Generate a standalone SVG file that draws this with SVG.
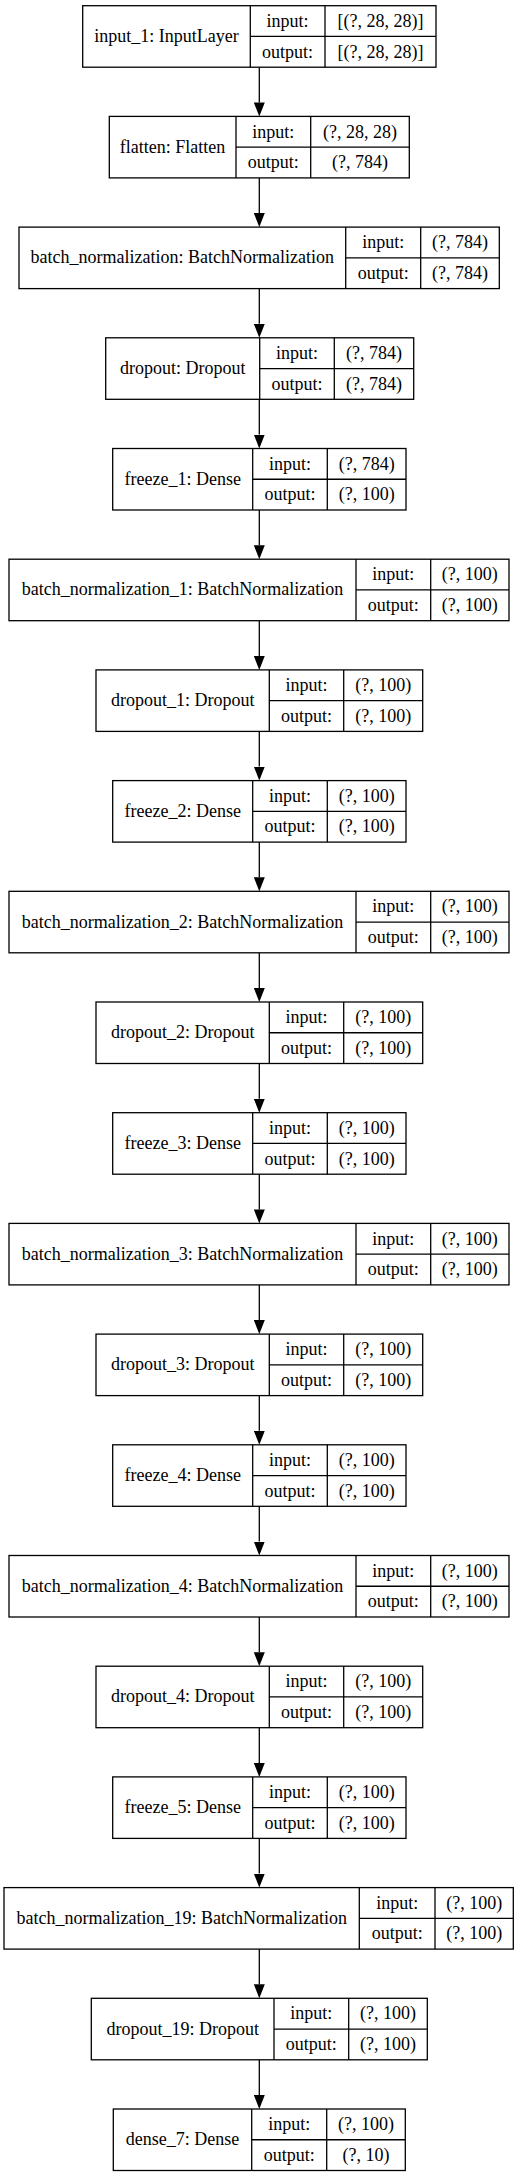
<svg xmlns="http://www.w3.org/2000/svg" width="519" height="2176" viewBox="0 0 519 2176">
<style>
rect{fill:#fff;stroke:#000;stroke-width:1.3}
.n line{stroke:#000;stroke-width:1.3}
text{font-family:"Liberation Serif","Times New Roman",serif;font-size:18px;fill:#000;text-anchor:middle}
.e line{stroke:#000;stroke-width:1.3}
</style>
<defs>
<marker id="arr" viewBox="0 0 14 11" refX="0" refY="5.5" markerWidth="14" markerHeight="11" orient="auto" markerUnits="userSpaceOnUse"><path d="M0,0 L14,5.5 L0,11 z" fill="#000"/></marker>
</defs>
<rect x="0" y="0" width="519" height="2176" style="stroke:none;fill:#fff"/>
<g class="e" id="connectors">
<line x1="259.3" y1="67.2" x2="259.3" y2="102.4" marker-end="url(#arr)"/>
<line x1="259.3" y1="177.9" x2="259.3" y2="213.1" marker-end="url(#arr)"/>
<line x1="259.3" y1="288.6" x2="259.3" y2="323.8" marker-end="url(#arr)"/>
<line x1="259.3" y1="399.3" x2="259.3" y2="434.5" marker-end="url(#arr)"/>
<line x1="259.3" y1="510" x2="259.3" y2="545.2" marker-end="url(#arr)"/>
<line x1="259.3" y1="620.7" x2="259.3" y2="655.9" marker-end="url(#arr)"/>
<line x1="259.3" y1="731.4" x2="259.3" y2="766.6" marker-end="url(#arr)"/>
<line x1="259.3" y1="842.1" x2="259.3" y2="877.3" marker-end="url(#arr)"/>
<line x1="259.3" y1="952.8" x2="259.3" y2="988" marker-end="url(#arr)"/>
<line x1="259.3" y1="1063.5" x2="259.3" y2="1098.7" marker-end="url(#arr)"/>
<line x1="259.3" y1="1174.2" x2="259.3" y2="1209.4" marker-end="url(#arr)"/>
<line x1="259.3" y1="1284.9" x2="259.3" y2="1320.1" marker-end="url(#arr)"/>
<line x1="259.3" y1="1395.6" x2="259.3" y2="1430.8" marker-end="url(#arr)"/>
<line x1="259.3" y1="1506.3" x2="259.3" y2="1541.5" marker-end="url(#arr)"/>
<line x1="259.3" y1="1617" x2="259.3" y2="1652.2" marker-end="url(#arr)"/>
<line x1="259.3" y1="1727.7" x2="259.3" y2="1762.9" marker-end="url(#arr)"/>
<line x1="259.3" y1="1838.4" x2="259.3" y2="1873.6" marker-end="url(#arr)"/>
<line x1="259.3" y1="1949.1" x2="259.3" y2="1984.3" marker-end="url(#arr)"/>
<line x1="259.3" y1="2059.8" x2="259.3" y2="2095" marker-end="url(#arr)"/>
</g>

<g class="n" id="input_1" transform="translate(0,5.7)">
<rect x="82.7" y="0" width="353.3" height="61.5"/>
<line x1="250.3" y1="0" x2="250.3" y2="61.5"/><line x1="325" y1="0" x2="325" y2="61.5"/><line x1="250.3" y1="30.75" x2="436" y2="30.75"/>
<text x="166.5" y="36.25">input_1: InputLayer</text>
<text x="287.6" y="21.2">input:</text><text x="287.6" y="51.9">output:</text>
<text x="380.5" y="21.2">[(?, 28, 28)]</text><text x="380.5" y="51.9">[(?, 28, 28)]</text>
</g>

<g class="n" id="flatten" transform="translate(0,116.4)">
<rect x="109.3" y="0" width="300" height="61.5"/>
<line x1="236" y1="0" x2="236" y2="61.5"/><line x1="310.7" y1="0" x2="310.7" y2="61.5"/><line x1="236" y1="30.75" x2="409.3" y2="30.75"/>
<text x="172.6" y="36.25">flatten: Flatten</text>
<text x="273.3" y="21.2">input:</text><text x="273.3" y="51.9">output:</text>
<text x="360" y="21.2">(?, 28, 28)</text><text x="360" y="51.9">(?, 784)</text>
</g>

<g class="n" id="batch_normalization" transform="translate(0,227.1)">
<rect x="19" y="0" width="480.3" height="61.5"/>
<line x1="345.7" y1="0" x2="345.7" y2="61.5"/><line x1="420.7" y1="0" x2="420.7" y2="61.5"/><line x1="345.7" y1="30.75" x2="499.3" y2="30.75"/>
<text x="182.3" y="36.25">batch_normalization: BatchNormalization</text>
<text x="383.2" y="21.2">input:</text><text x="383.2" y="51.9">output:</text>
<text x="460" y="21.2">(?, 784)</text><text x="460" y="51.9">(?, 784)</text>
</g>

<g class="n" id="dropout" transform="translate(0,337.8)">
<rect x="105.7" y="0" width="308" height="61.5"/>
<line x1="259.7" y1="0" x2="259.7" y2="61.5"/><line x1="334.3" y1="0" x2="334.3" y2="61.5"/><line x1="259.7" y1="30.75" x2="413.7" y2="30.75"/>
<text x="182.7" y="36.25">dropout: Dropout</text>
<text x="297" y="21.2">input:</text><text x="297" y="51.9">output:</text>
<text x="374" y="21.2">(?, 784)</text><text x="374" y="51.9">(?, 784)</text>
</g>

<g class="n" id="freeze_1" transform="translate(0,448.5)">
<rect x="112.7" y="0" width="293.3" height="61.5"/>
<line x1="252.7" y1="0" x2="252.7" y2="61.5"/><line x1="327.3" y1="0" x2="327.3" y2="61.5"/><line x1="252.7" y1="30.75" x2="406" y2="30.75"/>
<text x="182.7" y="36.25">freeze_1: Dense</text>
<text x="290" y="21.2">input:</text><text x="290" y="51.9">output:</text>
<text x="366.7" y="21.2">(?, 784)</text><text x="366.7" y="51.9">(?, 100)</text>
</g>

<g class="n" id="batch_normalization_1" transform="translate(0,559.2)">
<rect x="9" y="0" width="500" height="61.5"/>
<line x1="356" y1="0" x2="356" y2="61.5"/><line x1="430.7" y1="0" x2="430.7" y2="61.5"/><line x1="356" y1="30.75" x2="509" y2="30.75"/>
<text x="182.5" y="36.25">batch_normalization_1: BatchNormalization</text>
<text x="393.3" y="21.2">input:</text><text x="393.3" y="51.9">output:</text>
<text x="469.8" y="21.2">(?, 100)</text><text x="469.8" y="51.9">(?, 100)</text>
</g>

<g class="n" id="dropout_1" transform="translate(0,669.9)">
<rect x="96" y="0" width="326.7" height="61.5"/>
<line x1="269.3" y1="0" x2="269.3" y2="61.5"/><line x1="343.7" y1="0" x2="343.7" y2="61.5"/><line x1="269.3" y1="30.75" x2="422.7" y2="30.75"/>
<text x="182.7" y="36.25">dropout_1: Dropout</text>
<text x="306.5" y="21.2">input:</text><text x="306.5" y="51.9">output:</text>
<text x="383.2" y="21.2">(?, 100)</text><text x="383.2" y="51.9">(?, 100)</text>
</g>

<g class="n" id="freeze_2" transform="translate(0,780.6)">
<rect x="112.7" y="0" width="293.3" height="61.5"/>
<line x1="252.7" y1="0" x2="252.7" y2="61.5"/><line x1="327.3" y1="0" x2="327.3" y2="61.5"/><line x1="252.7" y1="30.75" x2="406" y2="30.75"/>
<text x="182.7" y="36.25">freeze_2: Dense</text>
<text x="290" y="21.2">input:</text><text x="290" y="51.9">output:</text>
<text x="366.7" y="21.2">(?, 100)</text><text x="366.7" y="51.9">(?, 100)</text>
</g>

<g class="n" id="batch_normalization_2" transform="translate(0,891.3)">
<rect x="9" y="0" width="500" height="61.5"/>
<line x1="356" y1="0" x2="356" y2="61.5"/><line x1="430.7" y1="0" x2="430.7" y2="61.5"/><line x1="356" y1="30.75" x2="509" y2="30.75"/>
<text x="182.5" y="36.25">batch_normalization_2: BatchNormalization</text>
<text x="393.3" y="21.2">input:</text><text x="393.3" y="51.9">output:</text>
<text x="469.8" y="21.2">(?, 100)</text><text x="469.8" y="51.9">(?, 100)</text>
</g>

<g class="n" id="dropout_2" transform="translate(0,1002)">
<rect x="96" y="0" width="326.7" height="61.5"/>
<line x1="269.3" y1="0" x2="269.3" y2="61.5"/><line x1="343.7" y1="0" x2="343.7" y2="61.5"/><line x1="269.3" y1="30.75" x2="422.7" y2="30.75"/>
<text x="182.7" y="36.25">dropout_2: Dropout</text>
<text x="306.5" y="21.2">input:</text><text x="306.5" y="51.9">output:</text>
<text x="383.2" y="21.2">(?, 100)</text><text x="383.2" y="51.9">(?, 100)</text>
</g>

<g class="n" id="freeze_3" transform="translate(0,1112.7)">
<rect x="112.7" y="0" width="293.3" height="61.5"/>
<line x1="252.7" y1="0" x2="252.7" y2="61.5"/><line x1="327.3" y1="0" x2="327.3" y2="61.5"/><line x1="252.7" y1="30.75" x2="406" y2="30.75"/>
<text x="182.7" y="36.25">freeze_3: Dense</text>
<text x="290" y="21.2">input:</text><text x="290" y="51.9">output:</text>
<text x="366.7" y="21.2">(?, 100)</text><text x="366.7" y="51.9">(?, 100)</text>
</g>

<g class="n" id="batch_normalization_3" transform="translate(0,1223.4)">
<rect x="9" y="0" width="500" height="61.5"/>
<line x1="356" y1="0" x2="356" y2="61.5"/><line x1="430.7" y1="0" x2="430.7" y2="61.5"/><line x1="356" y1="30.75" x2="509" y2="30.75"/>
<text x="182.5" y="36.25">batch_normalization_3: BatchNormalization</text>
<text x="393.3" y="21.2">input:</text><text x="393.3" y="51.9">output:</text>
<text x="469.8" y="21.2">(?, 100)</text><text x="469.8" y="51.9">(?, 100)</text>
</g>

<g class="n" id="dropout_3" transform="translate(0,1334.1)">
<rect x="96" y="0" width="326.7" height="61.5"/>
<line x1="269.3" y1="0" x2="269.3" y2="61.5"/><line x1="343.7" y1="0" x2="343.7" y2="61.5"/><line x1="269.3" y1="30.75" x2="422.7" y2="30.75"/>
<text x="182.7" y="36.25">dropout_3: Dropout</text>
<text x="306.5" y="21.2">input:</text><text x="306.5" y="51.9">output:</text>
<text x="383.2" y="21.2">(?, 100)</text><text x="383.2" y="51.9">(?, 100)</text>
</g>

<g class="n" id="freeze_4" transform="translate(0,1444.8)">
<rect x="112.7" y="0" width="293.3" height="61.5"/>
<line x1="252.7" y1="0" x2="252.7" y2="61.5"/><line x1="327.3" y1="0" x2="327.3" y2="61.5"/><line x1="252.7" y1="30.75" x2="406" y2="30.75"/>
<text x="182.7" y="36.25">freeze_4: Dense</text>
<text x="290" y="21.2">input:</text><text x="290" y="51.9">output:</text>
<text x="366.7" y="21.2">(?, 100)</text><text x="366.7" y="51.9">(?, 100)</text>
</g>

<g class="n" id="batch_normalization_4" transform="translate(0,1555.5)">
<rect x="9" y="0" width="500" height="61.5"/>
<line x1="356" y1="0" x2="356" y2="61.5"/><line x1="430.7" y1="0" x2="430.7" y2="61.5"/><line x1="356" y1="30.75" x2="509" y2="30.75"/>
<text x="182.5" y="36.25">batch_normalization_4: BatchNormalization</text>
<text x="393.3" y="21.2">input:</text><text x="393.3" y="51.9">output:</text>
<text x="469.8" y="21.2">(?, 100)</text><text x="469.8" y="51.9">(?, 100)</text>
</g>

<g class="n" id="dropout_4" transform="translate(0,1666.2)">
<rect x="96" y="0" width="326.7" height="61.5"/>
<line x1="269.3" y1="0" x2="269.3" y2="61.5"/><line x1="343.7" y1="0" x2="343.7" y2="61.5"/><line x1="269.3" y1="30.75" x2="422.7" y2="30.75"/>
<text x="182.7" y="36.25">dropout_4: Dropout</text>
<text x="306.5" y="21.2">input:</text><text x="306.5" y="51.9">output:</text>
<text x="383.2" y="21.2">(?, 100)</text><text x="383.2" y="51.9">(?, 100)</text>
</g>

<g class="n" id="freeze_5" transform="translate(0,1776.9)">
<rect x="112.7" y="0" width="293.3" height="61.5"/>
<line x1="252.7" y1="0" x2="252.7" y2="61.5"/><line x1="327.3" y1="0" x2="327.3" y2="61.5"/><line x1="252.7" y1="30.75" x2="406" y2="30.75"/>
<text x="182.7" y="36.25">freeze_5: Dense</text>
<text x="290" y="21.2">input:</text><text x="290" y="51.9">output:</text>
<text x="366.7" y="21.2">(?, 100)</text><text x="366.7" y="51.9">(?, 100)</text>
</g>

<g class="n" id="batch_normalization_19" transform="translate(0,1887.6)">
<rect x="4" y="0" width="509.3" height="61.5"/>
<line x1="359.3" y1="0" x2="359.3" y2="61.5"/><line x1="435" y1="0" x2="435" y2="61.5"/><line x1="359.3" y1="30.75" x2="513.3" y2="30.75"/>
<text x="181.7" y="36.25">batch_normalization_19: BatchNormalization</text>
<text x="397.2" y="21.2">input:</text><text x="397.2" y="51.9">output:</text>
<text x="474.2" y="21.2">(?, 100)</text><text x="474.2" y="51.9">(?, 100)</text>
</g>

<g class="n" id="dropout_19" transform="translate(0,1998.3)">
<rect x="91.3" y="0" width="336" height="61.5"/>
<line x1="274" y1="0" x2="274" y2="61.5"/><line x1="348.7" y1="0" x2="348.7" y2="61.5"/><line x1="274" y1="30.75" x2="427.3" y2="30.75"/>
<text x="182.7" y="36.25">dropout_19: Dropout</text>
<text x="311.3" y="21.2">input:</text><text x="311.3" y="51.9">output:</text>
<text x="388" y="21.2">(?, 100)</text><text x="388" y="51.9">(?, 100)</text>
</g>

<g class="n" id="dense_7" transform="translate(0,2109)">
<rect x="113.3" y="0" width="292" height="61.5"/>
<line x1="251.7" y1="0" x2="251.7" y2="61.5"/><line x1="326.7" y1="0" x2="326.7" y2="61.5"/><line x1="251.7" y1="30.75" x2="405.3" y2="30.75"/>
<text x="182.5" y="36.25">dense_7: Dense</text>
<text x="289.2" y="21.2">input:</text><text x="289.2" y="51.9">output:</text>
<text x="366" y="21.2">(?, 100)</text><text x="366" y="51.9">(?, 10)</text>
</g>
</svg>
